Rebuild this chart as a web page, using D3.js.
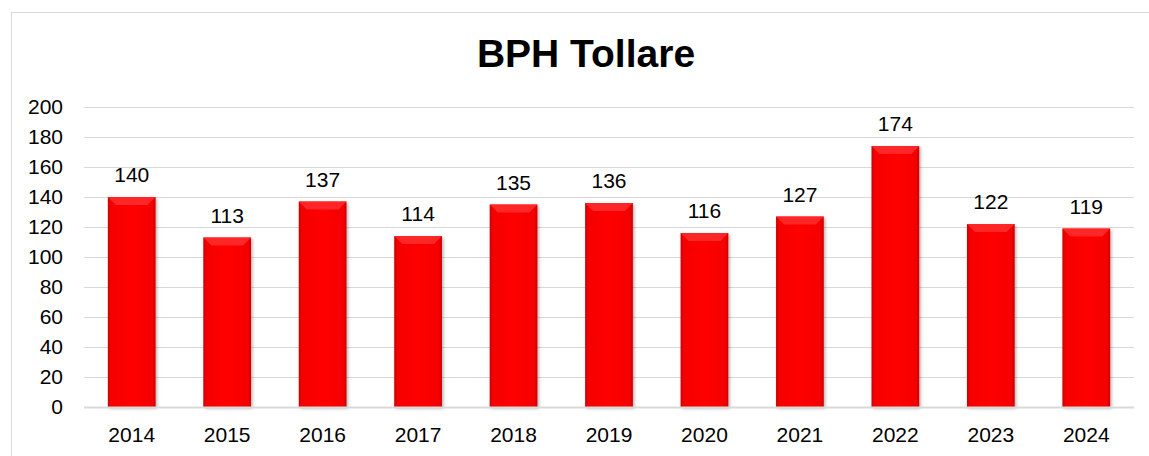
<!DOCTYPE html>
<html><head><meta charset="utf-8">
<script src="https://cdn.jsdelivr.net/npm/d3@7"></script>
<style>body{margin:0;background:#fff}svg{display:block;font-family:"Liberation Sans",Arial,sans-serif}</style>
</head><body><svg id="c" width="1149" height="456"></svg>
<script>
const title = "BPH Tollare";
const years = ["2014","2015","2016","2017","2018","2019","2020","2021","2022","2023","2024"];
const values = [140,113,137,114,135,136,116,127,174,122,119];
const yTicks = [0,20,40,60,80,100,120,140,160,180,200];

const svg = d3.select("#c");
const W = 1149, H = 456;
const m = {l:84, r:15, t:107, b:49};

svg.append("rect").attr("x",11.5).attr("y",12.5).attr("width",W).attr("height",H)
  .attr("fill","#fff").attr("stroke","#d9d9d9").attr("stroke-width",1);

const defs = svg.append("defs");
const g1 = defs.append("linearGradient").attr("id","gh").attr("x1","0").attr("x2","1").attr("y1","0").attr("y2","0");
g1.append("stop").attr("offset","0").attr("stop-color","#c80000");
g1.append("stop").attr("offset","0.06").attr("stop-color","#f40000");
g1.append("stop").attr("offset","0.5").attr("stop-color","#ff0000");
g1.append("stop").attr("offset","0.94").attr("stop-color","#f40000");
g1.append("stop").attr("offset","1").attr("stop-color","#c80000");
const f = defs.append("filter").attr("id","sh").attr("x","-20%").attr("y","-20%").attr("width","140%").attr("height","140%");
f.append("feDropShadow").attr("dx",1.5).attr("dy",1.5).attr("stdDeviation",1.5).attr("flood-color","#000").attr("flood-opacity",0.3);

const x = d3.scaleBand().domain(years).range([m.l, W-m.r]).paddingInner(0.5).paddingOuter(0.25);
const y = d3.scaleLinear().domain([0,200]).range([H-m.b, m.t]);

svg.append("text").attr("x",586).attr("y",67).attr("text-anchor","middle")
  .attr("font-size",39).attr("font-weight","bold").attr("fill","#000").text(title);

// grid
svg.append("g").selectAll("line").data(yTicks.filter(d=>d>0)).join("line")
  .attr("x1",m.l).attr("x2",W-m.r).attr("y1",d=>Math.round(y(d))+0.5).attr("y2",d=>Math.round(y(d))+0.5)
  .attr("stroke","#d9d9d9").attr("stroke-width",1);

const yAxis = svg.append("g").attr("transform",`translate(${m.l},0)`)
  .call(d3.axisLeft(y).tickValues(yTicks).tickSize(0).tickPadding(21));
yAxis.select(".domain").remove();
yAxis.selectAll("text").attr("font-size",21).attr("fill","#000").attr("font-family","Liberation Sans, Arial, sans-serif");

// bars
const bars = svg.append("g").selectAll("g").data(years).join("g");
bars.append("rect")
  .attr("x",d=>x(d)).attr("width",x.bandwidth())
  .attr("y",(d,i)=>y(values[i])).attr("height",(d,i)=>y(0)-y(values[i]))
  .attr("fill","url(#gh)").attr("filter","url(#sh)");
// top bevel
bars.append("path").attr("d",(d,i)=>{
  const x0=x(d), x1=x0+x.bandwidth(), t=y(values[i]), b=8;
  return `M${x0},${t}L${x1},${t}L${x1-b},${t+b}L${x0+b},${t+b}Z`;
}).attr("fill","#ff3030").attr("opacity",0.8);

// baseline
svg.append("line").attr("x1",m.l).attr("x2",W-m.r).attr("y1",y(0)+0.5).attr("y2",y(0)+0.5)
  .attr("stroke","#d9d9d9").attr("stroke-width",2);

const xAxis = svg.append("g").attr("transform",`translate(0,${y(0)})`)
  .call(d3.axisBottom(x).tickSize(0).tickPadding(20));
xAxis.select(".domain").remove();
xAxis.selectAll("text").attr("font-size",21).attr("fill","#000").attr("font-family","Liberation Sans, Arial, sans-serif");

// value labels
svg.append("g").selectAll("text").data(years).join("text")
  .attr("x",d=>x(d)+x.bandwidth()/2).attr("y",(d,i)=>y(values[i])-15)
  .attr("text-anchor","middle").attr("font-size",21).attr("fill","#000")
  .text((d,i)=>values[i]);
</script></body></html>
